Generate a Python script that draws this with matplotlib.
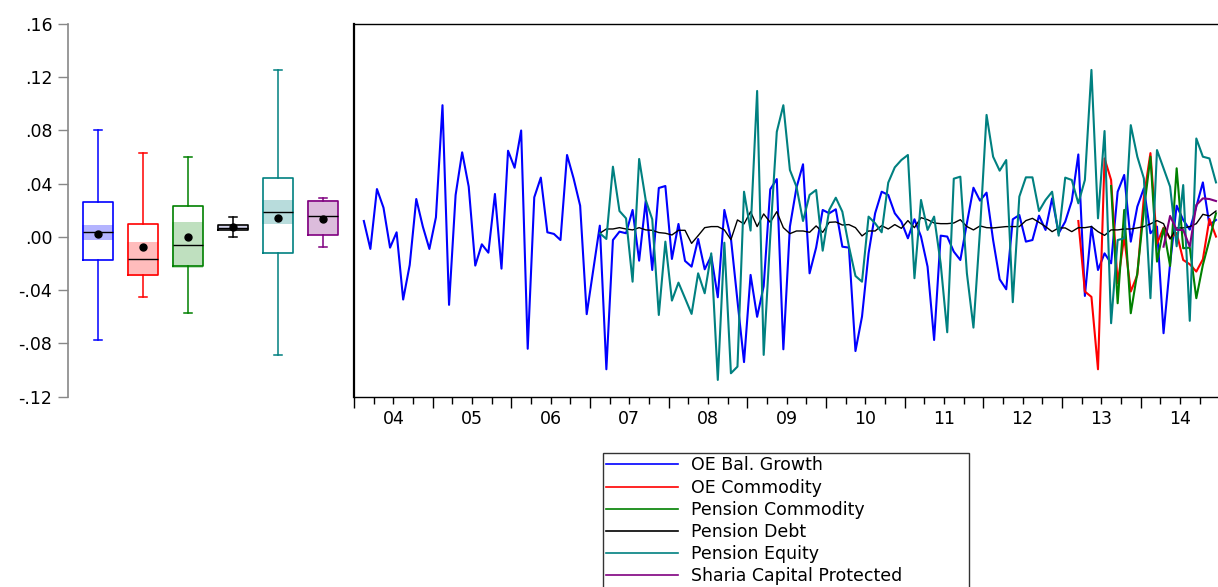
import numpy as np
import matplotlib
matplotlib.use("Agg")
import matplotlib.pyplot as plt
from matplotlib.ticker import FixedLocator, FuncFormatter, NullFormatter

# ---------------- data ----------------
series_names = ["OE Bal. Growth", "OE Commodity", "Pension Commodity",
                "Pension Debt", "Pension Equity", "Sharia Capital Protected"]
series_colors = ["#0000ff", "#ff0000", "#008000", "#000000", "#008080", "#800080"]
shade_colors = ["#b4b4ff", "#ffbcbc", "#bfe0bf", "#d4d4ec", "#b8dcdc", "#dcbcdc"]
start_months = ["2004-02", "2013-03", "2013-08", "2007-02", "2007-02", "2014-04"]

oe_bal_growth = [
    0.012, -0.009, 0.036, 0.022, -0.008, 0.0035, -0.047, -0.021, 0.0285, 0.0078,
    -0.009, 0.0148, 0.099, -0.051, 0.0315, 0.0636, 0.0378, -0.0215, -0.0055, -0.0118,
    0.0323, -0.0238, 0.0648, 0.052, 0.080, -0.084, 0.0298, 0.0446, 0.0035, 0.0023,
    -0.0023, 0.0616, 0.044, 0.0235, -0.058, -0.025, 0.0085, -0.0994, -0.0023, 0.004,
    0.0028, 0.0203, -0.0178, 0.027, -0.0248, 0.0368, 0.0383, -0.0165, 0.0098, -0.018,
    -0.0223, -0.0015, -0.0243, -0.0143, -0.0453, 0.0203, -0.001, -0.048, -0.094, -0.0285,
    -0.060, -0.037, 0.0358, 0.0435, -0.0844, 0.0078, 0.037, 0.0546, -0.0273, -0.008,
    0.0203, 0.0178, 0.0208, -0.0073, -0.008, -0.0857, -0.0598, -0.0123, 0.0178, 0.034,
    0.0316, 0.0178, 0.0115, -0.001, 0.0133, 0.0003, -0.0223, -0.0774, 0.001, 0.0003,
    -0.011, -0.0173, 0.0103, 0.037, 0.0273, 0.0333, -0.0023, -0.0318, -0.0393, 0.0133,
    0.0165, -0.0035, -0.0023, 0.016, 0.0053, 0.029, 0.0028, 0.0115, 0.027, 0.062,
    -0.0443, 0.0078, -0.0248, -0.0123, -0.0198, 0.034, 0.0466, -0.0035, 0.0228, 0.0366,
    0.0028, 0.0078, -0.0723, -0.02, 0.0235, 0.0128, 0.0055, 0.0228, 0.041, 0.009,
    0.0128]

oe_commodity = [
    0.012, -0.041, -0.045, -0.0994, 0.059, 0.0428, -0.0348, 0.0, -0.041, -0.0286,
    0.03, 0.063, -0.005, 0.007, -0.001, 0.003, -0.0173, -0.0205, -0.026, -0.0168,
    0.0135, 0.0003]

pension_commodity = [
    0.0383, -0.0498, 0.0203, -0.0573, -0.027, 0.02, 0.0603, -0.0185, 0.0065, -0.0218,
    0.0516, -0.0085, -0.008, -0.046, -0.021, -0.0023, 0.0178]

pension_debt = [
    0.0028, 0.006, 0.006, 0.007, 0.006, 0.0053, 0.007, 0.0053, 0.005, 0.0033,
    0.0028, 0.0015, 0.005, 0.005, -0.0048, 0.001, 0.007, 0.0078, 0.0078, 0.0053,
    -0.002, 0.0128, 0.0098, 0.019, 0.0078, 0.0173, 0.011, 0.019, 0.007, 0.0025,
    0.0045, 0.0045, 0.0035, 0.0083, 0.0035, 0.011, 0.0113, 0.009, 0.0093, 0.007,
    0.0008, 0.0045, 0.0045, 0.0085, 0.006, 0.0093, 0.0065, 0.0123, 0.007, 0.0145,
    0.013, 0.0105, 0.01, 0.01, 0.0105, 0.013, 0.0078, 0.0053, 0.0083, 0.007,
    0.0068, 0.0073, 0.0078, 0.0078, 0.0078, 0.0123, 0.014, 0.011, 0.0078, 0.004,
    0.0068, 0.0068, 0.004, 0.007, 0.007, 0.0078, 0.004, 0.0012, 0.0053, 0.0053,
    0.006, 0.006, 0.0068, 0.0078, 0.0098, 0.0123, 0.01, -0.0015, 0.0068, 0.0068,
    0.0078, 0.01, 0.017, 0.0158, 0.0195]

pension_equity = [
    0.0028, -0.0015, 0.0528, 0.0195, 0.014, -0.0336, 0.0586, 0.0278, 0.0133, -0.0586,
    -0.0035, -0.0478, -0.0343, -0.046, -0.0578, -0.0273, -0.0423, -0.0123, -0.1074, -0.0043,
    -0.1024, -0.0974, 0.034, 0.0048, 0.1097, -0.0886, 0.0, 0.079, 0.099, 0.0503,
    0.0378, 0.012, 0.0316, 0.0353, -0.0103, 0.0203, 0.0295, 0.019, -0.007, -0.0293,
    -0.0336, 0.0153, 0.0103, 0.0035, 0.0408, 0.0523, 0.0578, 0.0616, -0.031, 0.0278,
    0.0053, 0.0153, -0.02, -0.0716, 0.0438, 0.0453, -0.0273, -0.0681, 0.005, 0.0917,
    0.0603, 0.0498, 0.0578, -0.049, 0.0303, 0.0448, 0.0448, 0.0195, 0.0278, 0.034,
    0.001, 0.0446, 0.0428, 0.0253, 0.0428, 0.1255, 0.014, 0.0796, -0.0648, -0.0023,
    -0.001, 0.084, 0.0603, 0.044, -0.046, 0.0653, 0.0516, 0.0378, -0.007, 0.039,
    -0.063, 0.074, 0.0603, 0.059, 0.041]

sharia_capital_protected = [
    -0.0073, 0.0158, 0.0053, 0.0053, -0.0073, 0.024, 0.029, 0.0285, 0.027]

all_series = [oe_bal_growth, oe_commodity, pension_commodity,
              pension_debt, pension_equity, sharia_capital_protected]

# box-plot summary
box_whishi = [0.0804, 0.0631, 0.0601, 0.0153, 0.1255, 0.0293]
box_q3 = [0.0260, 0.0095, 0.0235, 0.0093, 0.0446, 0.0268]
box_med = [0.0035, -0.0165, -0.0063, 0.0068, 0.0186, 0.0155]
box_mean = [0.0025, -0.0073, 0.0003, 0.0078, 0.0143, 0.0135]
box_q1 = [-0.0173, -0.0286, -0.0215, 0.0053, -0.0118, 0.0017]
box_whislo = [-0.0776, -0.0448, -0.0573, 0.0003, -0.0884, -0.0075]
box_ci_hi = [0.0090, -0.0040, 0.0113, 0.0083, 0.0276, 0.0281]
box_ci_lo = [-0.0025, -0.0293, -0.0233, 0.0058, 0.0095, 0.0017]

y_ticks = [0.16, 0.12, 0.08, 0.04, 0.00, -0.04, -0.08, -0.12]
y_tick_labels = [".16", ".12", ".08", ".04", ".00", "-.04", "-.08", "-.12"]
year_labels = ["04", "05", "06", "07", "08", "09", "10", "11", "12", "13", "14"]
first_year = 2004

# ---------------- figure ----------------
W, H = 1218, 587
plt.rcParams['font.family'] = ['DejaVu Sans']
fig = plt.figure(figsize=(W / 100, H / 100), dpi=100)

y_top_px, y_bot_px = 24.0, 396.7
ylim = (-0.12, 0.16)

# ---- box panel ----
bx_left, bx_right = 68.3, 345.0
ax_box = fig.add_axes([bx_left / W, (H - y_bot_px) / H,
                       (bx_right - bx_left) / W, (y_bot_px - y_top_px) / H])
positions = np.arange(1, 7)
ax_box.bar(positions, np.array(box_ci_hi) - np.array(box_ci_lo), bottom=box_ci_lo,
           width=0.69, color=shade_colors, zorder=1, linewidth=0)
stats = []
for i in range(6):
    stats.append(dict(med=box_med[i], q1=box_q1[i], q3=box_q3[i],
                      whislo=box_whislo[i], whishi=box_whishi[i],
                      mean=box_mean[i], fliers=[]))
bp = ax_box.bxp(stats, positions=positions, widths=0.667, capwidths=0.18,
                showmeans=True, showfliers=False, patch_artist=False,
                meanprops=dict(marker='o', markerfacecolor='black',
                               markeredgecolor='black', markersize=5),
                medianprops=dict(color='black', linewidth=1.0),
                zorder=2)
for i, c in enumerate(series_colors):
    bp['boxes'][i].set_color(c)
    bp['boxes'][i].set_linewidth(1.2)
    for art in bp['whiskers'][2 * i:2 * i + 2] + bp['caps'][2 * i:2 * i + 2]:
        art.set_color(c)
        art.set_linewidth(1.1)
ax_box.set_xlim(1 - (97.7 - bx_left) / 45.0, 1 - (97.7 - bx_left) / 45.0 + (bx_right - bx_left) / 45.0)
ax_box.set_ylim(*ylim)
for s in ["top", "right", "bottom"]:
    ax_box.spines[s].set_visible(False)
ax_box.spines["left"].set_color("#888888")
ax_box.spines["left"].set_linewidth(1.2)
ax_box.set_xticks([])
ax_box.set_yticks(y_ticks)
ax_box.set_yticklabels(y_tick_labels)
ax_box.tick_params(axis='y', direction='out', length=7, width=1.0, color="#888888",
                   pad=4.5, labelsize=12.5, labelcolor='black')

# ---- time-series panel ----
px_per_month = 6.555
ts_left = 354.0
ax_ts = fig.add_axes([ts_left / W, (H - y_bot_px) / H,
                      (W - ts_left) / W, (y_bot_px - y_top_px) / H])


def month_positions(start, n):
    y, m = start.split("-")
    off = (int(y) - first_year) * 12 + (int(m) - 1)
    return off + np.arange(n) + 0.5


handles = []
for name, vals, c, st in zip(series_names, all_series, series_colors, start_months):
    lw = 1.0 if c == "#000000" else 1.5
    h, = ax_ts.plot(month_positions(st, len(vals)), vals, color=c, lw=lw, label=name)
    handles.append(h)

ax_ts.set_xlim(0, (W - ts_left) / px_per_month)
ax_ts.set_ylim(*ylim)
ax_ts.spines["right"].set_visible(False)
for s in ["top", "left", "bottom"]:
    ax_ts.spines[s].set_color("black")
ax_ts.spines["left"].set_linewidth(1.6)
ax_ts.spines["top"].set_linewidth(1.0)
ax_ts.spines["bottom"].set_linewidth(1.0)
ax_ts.set_yticks([])
n_years = len(year_labels)
ax_ts.xaxis.set_major_locator(FixedLocator([12 * i for i in range(n_years + 1)]))
ax_ts.xaxis.set_major_formatter(NullFormatter())
ax_ts.xaxis.set_minor_locator(FixedLocator([12 * i + q for i in range(n_years) for q in (3, 6, 9)]))


def minor_fmt(x, pos):
    xi = int(round(x))
    if xi % 12 == 6:
        return year_labels[xi // 12]
    return ""


ax_ts.xaxis.set_minor_formatter(FuncFormatter(minor_fmt))
ax_ts.tick_params(axis='x', which='major', direction='out', length=8, width=1.0, color='black')
ax_ts.tick_params(axis='x', which='minor', direction='out', length=5, width=1.0, color='black',
                  pad=4.5, labelsize=12.5)

# ---- legend ----
leg_left, leg_top, leg_w = 603.3, 453.3, 366.0
leg = fig.legend(handles=handles, labels=series_names, loc='upper left',
                 bbox_to_anchor=(leg_left / W, (H - leg_top) / H - 0.01, leg_w / W, 0.01),
                 bbox_transform=fig.transFigure, mode='expand', borderaxespad=0,
                 fontsize=12.5, frameon=True, fancybox=False, shadow=False,
                 handlelength=4.1, handletextpad=0.8, labelspacing=0.24, borderpad=0.18)
leg.get_frame().set_edgecolor('black')
leg.get_frame().set_linewidth(1.0)
for lh in leg.get_lines():
    lh.set_linewidth(1.2)

fig.savefig("out.png", dpi=100)
